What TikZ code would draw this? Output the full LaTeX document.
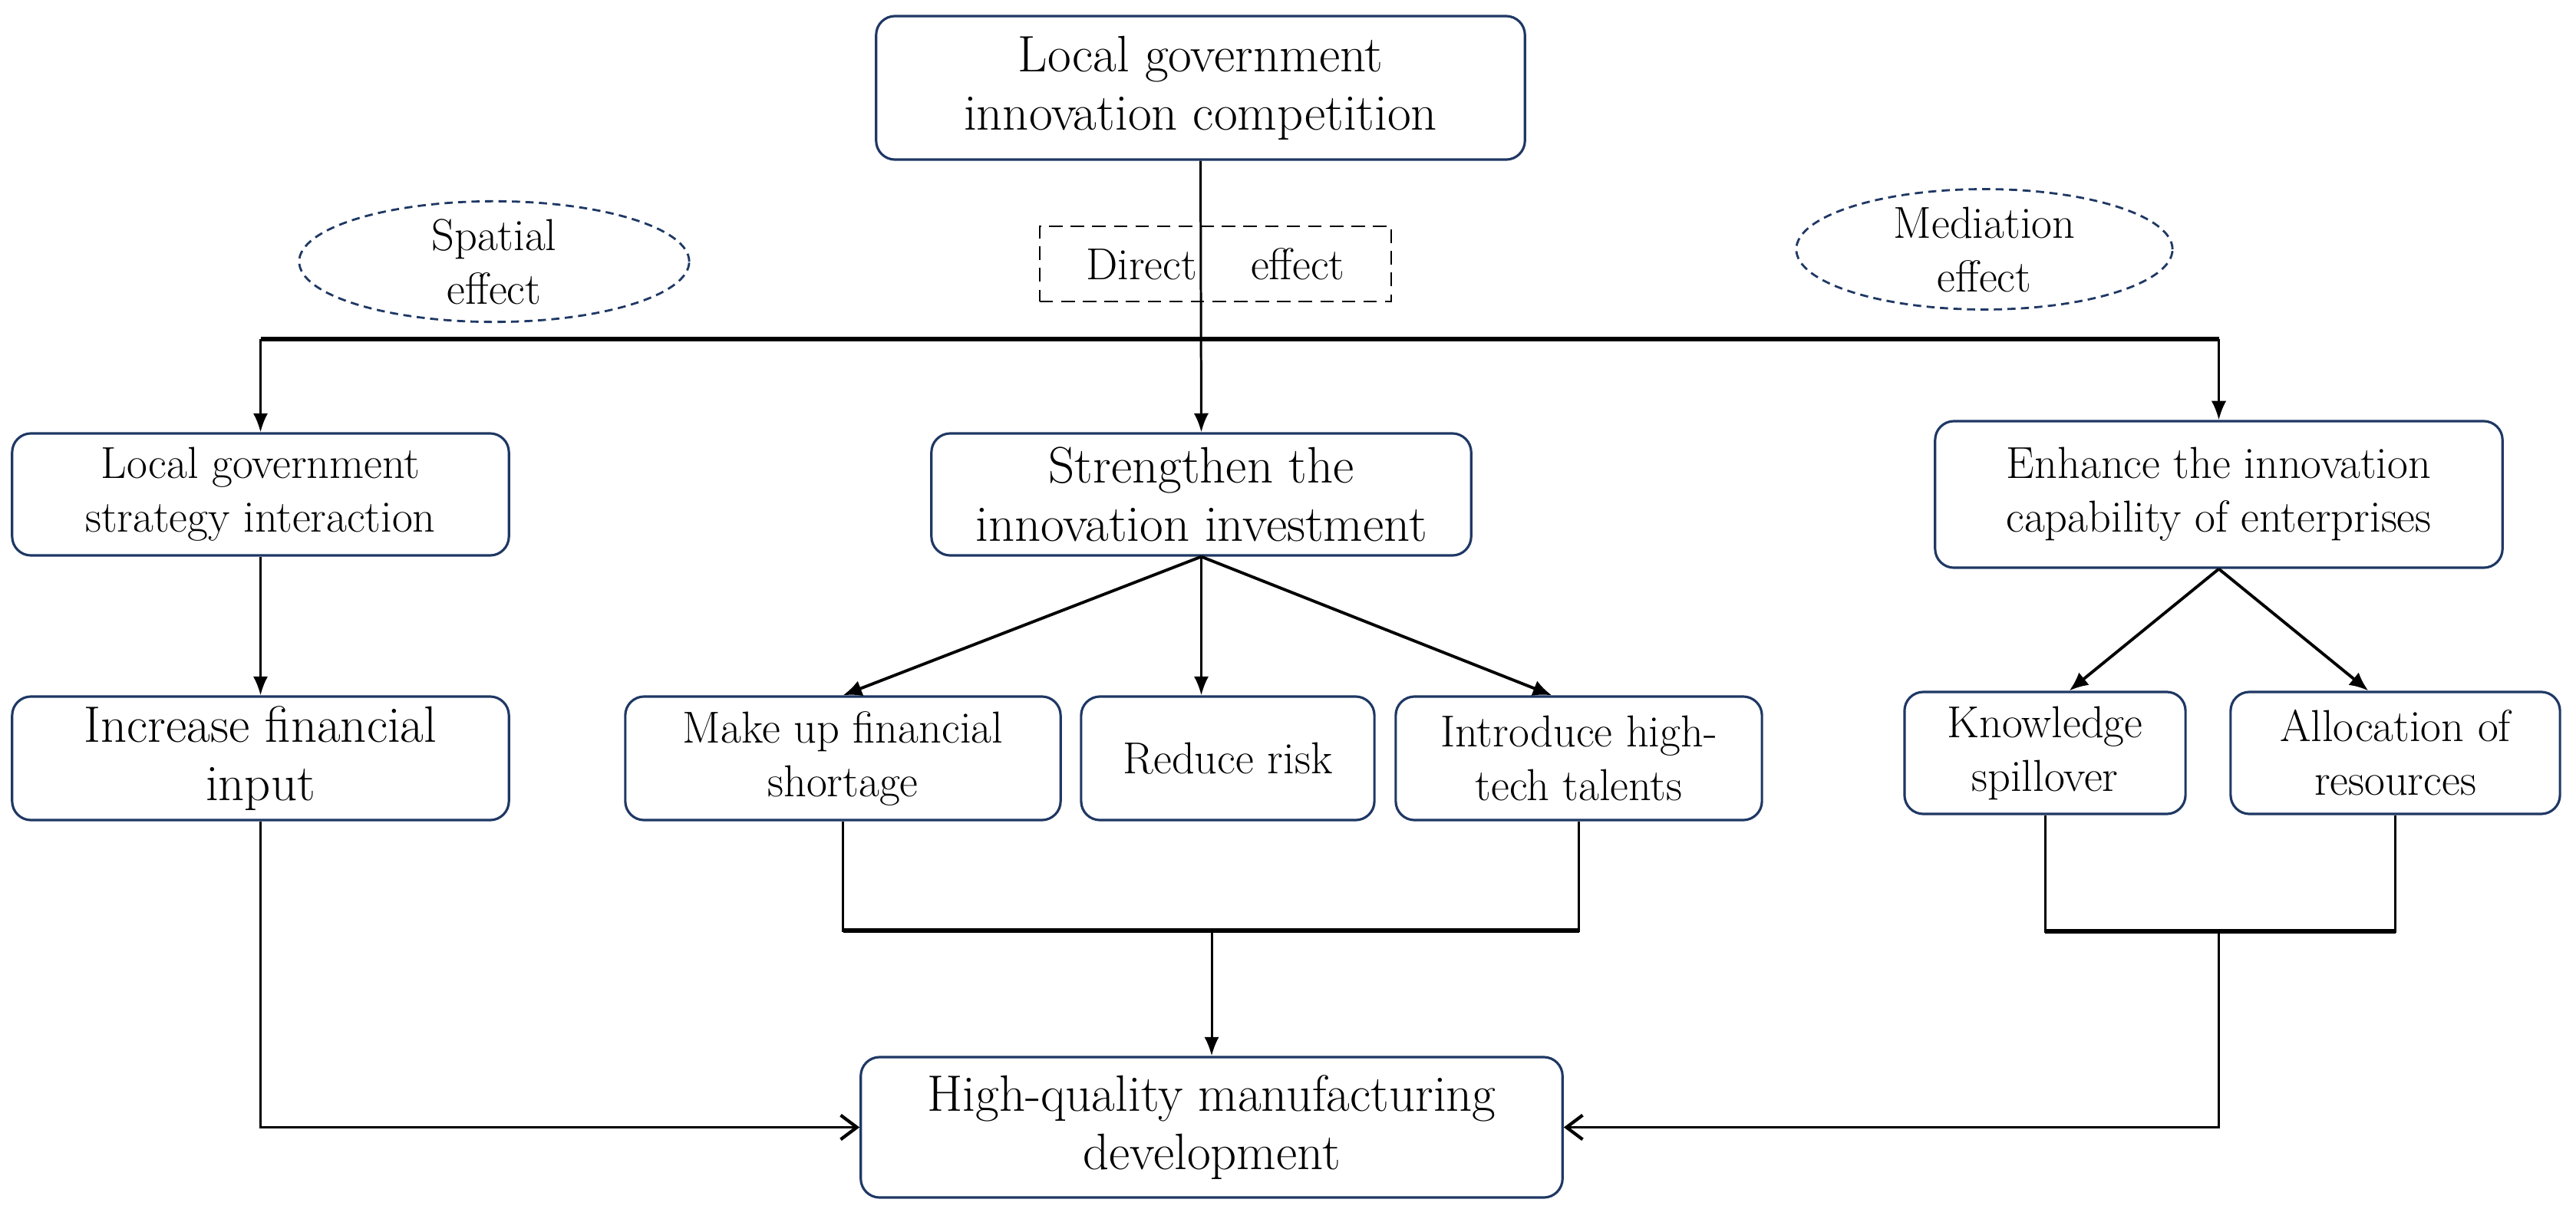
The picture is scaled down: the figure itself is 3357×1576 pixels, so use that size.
\documentclass[tikz,border=0pt]{standalone}
\usetikzlibrary{arrows.meta, shapes.geometric}

\definecolor{boxblue}{HTML}{1F3864}

\begin{document}
\begin{tikzpicture}[
    x=0.01cm, y=-0.01cm,
    box/.style={
        rectangle,
        rounded corners=7pt,
        draw=boxblue,
        line width=0.9pt,
        align=center,
        inner sep=0pt,
        minimum height=1.6cm,
    },
    big/.style={
        font=\fontsize{19}{21.6}\selectfont,
    },
    small/.style={
        font=\fontsize{16.6}{19.9}\selectfont,
    },
    effect/.style={
        ellipse,
        draw=boxblue,
        line width=0.8pt,
        dash pattern=on 3pt off 2pt,
        align=center,
        inner sep=0pt,
        font=\fontsize{16.6}{19.9}\selectfont,
    },
    link/.style={
        line width=0.85pt,
    },
    bus/.style={
        line width=1.6pt,
    },
    flow/.style={
        line width=0.85pt,
        -{Latex[length=7pt,width=5.5pt]},
    },
    fan/.style={
        line width=1.1pt,
        -{Latex[length=7pt,width=6pt]},
    },
    inflow/.style={
        line width=0.85pt,
        -{Straight Barb[length=6pt,width=9pt,line width=1.2pt]},
    },
]
    \useasboundingbox (0,0) rectangle (3357,1576);

    % Top level
    \node[box, big, minimum width=8.45cm, minimum height=1.87cm] (top) at (1564.5,114.5)
        {Local government\\innovation competition};

    % Effect labels
    \node[effect, minimum width=5.08cm, minimum height=1.57cm] (spatial) at (644,341)
        {Spatial\\effect};
    \node[draw, dash pattern=on 5pt off 3pt, line width=0.6pt, small, inner sep=0pt,
        minimum width=4.58cm, minimum height=0.98cm] (direct) at (1584,344)
        {Direct\hspace*{0.9em} effect};
    \node[effect, minimum width=4.9cm, minimum height=1.54cm] (mediation) at (2586,325)
        {Mediation\\effect};

    % Second row
    \node[box, small, minimum width=6.47cm, minimum height=1.59cm] (localgov) at (339.5,644.5)
        {Local government\\strategy interaction};
    \node[box, big, minimum width=7.03cm, minimum height=1.59cm] (strengthen) at (1565.5,644.5)
        {Strengthen the\\innovation investment};
    \node[box, small, minimum width=7.39cm, minimum height=1.91cm] (enhance) at (2891.5,644.5)
        {Enhance the innovation\\capability of enterprises};

    % Third row
    \node[box, big, minimum width=6.47cm, minimum height=1.61cm] (increase) at (339.5,988.5)
        {Increase financial\\input};
    \node[box, small, minimum width=5.67cm, minimum height=1.61cm] (makeup) at (1098.5,988.5)
        {Make up financial\\shortage};
    \node[box, small, minimum width=3.82cm, minimum height=1.61cm] (reduce) at (1600,988.5)
        {Reduce risk};
    \node[box, small, minimum width=4.77cm, minimum height=1.61cm] (introduce) at (2057.5,988.5)
        {Introduce high-\\tech talents};
    \node[box, small, minimum width=3.66cm, minimum height=1.59cm] (knowledge) at (2665,981.5)
        {Knowledge\\spillover};
    \node[box, small, minimum width=4.29cm, minimum height=1.59cm] (allocation) at (3121.5,981.5)
        {Allocation of\\resources};

    % Outcome
    \node[box, big, minimum width=9.14cm, minimum height=1.83cm] (hqmd) at (1579,1469.5)
        {High-quality manufacturing\\development};

    % Direct path and bus
    \coordinate (busL) at (339.5,442);
    \coordinate (busR) at (2891.5,442);
    \draw[flow] (top.south) -- (strengthen.north);
    \draw[bus] (busL) -- (busR);
    \draw[flow] (busL) -- (localgov.north);
    \draw[flow] (busR) -- (enhance.north);

    % Branches
    \draw[flow] (localgov) -- (increase);
    \draw[fan] (strengthen.south) -- (makeup.north);
    \draw[flow] (strengthen.south) -- (strengthen.south |- reduce.north);
    \draw[fan] (strengthen.south) -- ([xshift=-10]introduce.north);
    \draw[fan] (enhance.south) -- ([xshift=9]knowledge.north);
    \draw[fan] (enhance.south) -- ([xshift=-10]allocation.north);

    % Merging into the outcome
    \coordinate (midA) at (1579,1213);
    \coordinate (midB) at (2891.5,1214);
    \draw[link] (makeup.south) |- (midA) -| (introduce.south);
    \draw[bus] (makeup.south |- midA) -- (introduce.south |- midA);
    \draw[flow] (midA) -- (hqmd.north);
    \draw[link] (knowledge.south) |- (midB) -| (allocation.south);
    \draw[bus] (knowledge.south |- midB) -- (allocation.south |- midB);
    \draw[inflow] (increase.south) |- (hqmd.west);
    \draw[inflow] (midB) |- (hqmd.east);
\end{tikzpicture}
\end{document}
